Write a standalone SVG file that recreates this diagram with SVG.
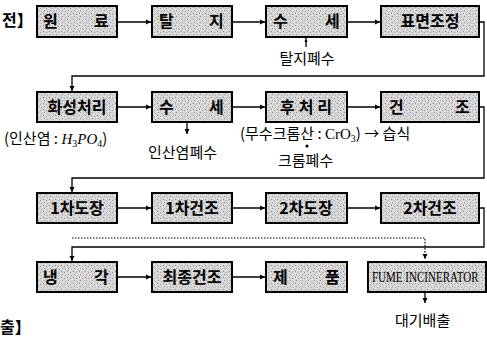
<svg xmlns="http://www.w3.org/2000/svg" width="487" height="337" viewBox="0 0 487 337">
<defs>
<pattern id="stip" width="6" height="6" patternUnits="userSpaceOnUse">
<rect width="6" height="6" fill="#d6d6d6"/>
<rect x="1" y="1" width="1" height="1" fill="#8c8c8c"/>
<rect x="4" y="2" width="1" height="1" fill="#a0a0a0"/>
<rect x="2" y="4" width="1" height="1" fill="#999"/>
<rect x="5" y="5" width="1" height="1" fill="#b4b4b4"/>
<rect x="0" y="3" width="1" height="1" fill="#eee"/>
<rect x="3" y="0" width="1" height="1" fill="#eee"/>
</pattern>
<marker id="ah" markerWidth="6" markerHeight="6" refX="5" refY="3" orient="auto" markerUnits="userSpaceOnUse">
<path d="M0,0.5 L5,3 L0,5.5 Z" fill="#000"/>
</marker>
</defs>
<style>
.box{fill:url(#stip);stroke:#000;stroke-width:2}
.t{font-family:"Noto Sans CJK KR","Noto Sans",sans-serif;font-size:15px;fill:#000}
.tb{font-family:"Noto Sans CJK KR","Noto Sans",sans-serif;font-size:16px;font-weight:bold;fill:#000}
.c{fill:none;stroke:#000;stroke-width:1.3}
.d{fill:none;stroke:#000;stroke-width:1.2;stroke-dasharray:1.5 1.5}
.s{font-family:"Liberation Serif",serif;fill:#000}
</style>
<rect width="487" height="337" fill="#fff"/>
<text class="tb" x="2" y="26">전】</text>
<text class="tb" x="0" y="333">출】</text>

<g id="connectors">
<path class="c" d="M117,22 H151" marker-end="url(#ah)"/>
<path class="c" d="M232,22 H265" marker-end="url(#ah)"/>
<path class="c" d="M347,22 H380" marker-end="url(#ah)"/>
<path class="c" d="M479,22 H484 V76 H72 V91" marker-end="url(#ah)"/>
<path class="c" d="M306,37 V47"/>
<circle cx="306" cy="41" r="1.3"/>
<path class="c" d="M117,107 H151" marker-end="url(#ah)"/>
<path class="c" d="M232,107 H265" marker-end="url(#ah)"/>
<path class="c" d="M347,107 H380" marker-end="url(#ah)"/>
<path class="c" d="M187,122 V134" marker-end="url(#ah)"/>
<path class="c" d="M479,107 H484 V178 H72 V192" marker-end="url(#ah)"/>
<circle cx="307" cy="146" r="1.6"/>
<path class="c" d="M117,208 H151" marker-end="url(#ah)"/>
<path class="c" d="M232,208 H265" marker-end="url(#ah)"/>
<path class="c" d="M347,208 H380" marker-end="url(#ah)"/>
<path class="c" d="M479,208 H484 V247 H72 V261" marker-end="url(#ah)"/>
<path class="d" d="M72,238 H425 V259" marker-end="url(#ah)"/>
<path class="c" d="M117,277 H151" marker-end="url(#ah)"/>
<path class="c" d="M232,277 H265" marker-end="url(#ah)"/>
<path class="c" d="M425,292 V303" marker-end="url(#ah)"/>
</g>

<g id="n1"><rect class="box" x="37" y="6" width="80" height="31"/><text class="tb" x="43" y="27">원</text><text class="tb" x="94" y="27">료</text></g>
<g id="n2"><rect class="box" x="152" y="6" width="80" height="31"/><text class="tb" x="159" y="27">탈</text><text class="tb" x="209" y="27">지</text></g>
<g id="n3"><rect class="box" x="266" y="6" width="81" height="31"/><text class="tb" x="273" y="27">수</text><text class="tb" x="325" y="27">세</text></g>
<g id="n4"><rect class="box" x="381" y="6" width="98" height="31"/><text class="tb" x="430" y="27" text-anchor="middle">표면조정</text></g>

<text class="t" x="307" y="64" text-anchor="middle">탈지폐수</text>

<g id="n5"><rect class="box" x="37" y="92" width="80" height="30"/><text class="tb" x="77" y="113" text-anchor="middle">화성처리</text></g>
<g id="n6"><rect class="box" x="152" y="92" width="80" height="30"/><text class="tb" x="159" y="113">수</text><text class="tb" x="209" y="113">세</text></g>
<g id="n7"><rect class="box" x="266" y="92" width="81" height="30"/><text class="tb" x="308" y="113" text-anchor="middle" letter-spacing="4">후처리</text></g>
<g id="n8"><rect class="box" x="381" y="92" width="98" height="30"/><text class="tb" x="389" y="113">건</text><text class="tb" x="455" y="113">조</text></g>

<text class="t" x="4" y="144">(인산염 : <tspan class="s" font-style="italic" font-size="15">H</tspan><tspan class="s" font-size="10" dy="3">3</tspan><tspan class="s" font-style="italic" font-size="15" dy="-3">PO</tspan><tspan class="s" font-size="10" dy="3">4</tspan><tspan dy="-3">)</tspan></text>
<text class="t" x="148" y="158">인산염폐수</text>
<text class="t" x="240" y="139">(무수크롬산 : <tspan class="s" font-size="15">CrO</tspan><tspan class="s" font-size="10" dy="3">3</tspan><tspan dy="-3">) → 습식</tspan></text>
<text class="t" x="278" y="166">크롬폐수</text>

<g id="n9"><rect class="box" x="37" y="193" width="80" height="30"/><text class="tb" x="77" y="214" text-anchor="middle">1차도장</text></g>
<g id="n10"><rect class="box" x="152" y="193" width="80" height="30"/><text class="tb" x="192" y="214" text-anchor="middle">1차건조</text></g>
<g id="n11"><rect class="box" x="266" y="193" width="81" height="30"/><text class="tb" x="306" y="214" text-anchor="middle">2차도장</text></g>
<g id="n12"><rect class="box" x="381" y="193" width="98" height="30"/><text class="tb" x="430" y="214" text-anchor="middle">2차건조</text></g>

<g id="n13"><rect class="box" x="37" y="262" width="80" height="30"/><text class="tb" x="43" y="283">냉</text><text class="tb" x="94" y="283">각</text></g>
<g id="n14"><rect class="box" x="152" y="262" width="80" height="30"/><text class="tb" x="192" y="283" text-anchor="middle">최종건조</text></g>
<g id="n15"><rect class="box" x="266" y="262" width="81" height="30"/><text class="tb" x="273" y="283">제</text><text class="tb" x="325" y="283">품</text></g>
<g id="n16"><rect class="box" x="368" y="262" width="118" height="30"/><text class="s" transform="translate(372,282) scale(0.74,1)" x="0" y="0" font-size="14" textLength="144" lengthAdjust="spacingAndGlyphs">FUME INCINERATOR</text></g>

<text class="t" x="395" y="326">대기배출</text>
</svg>
